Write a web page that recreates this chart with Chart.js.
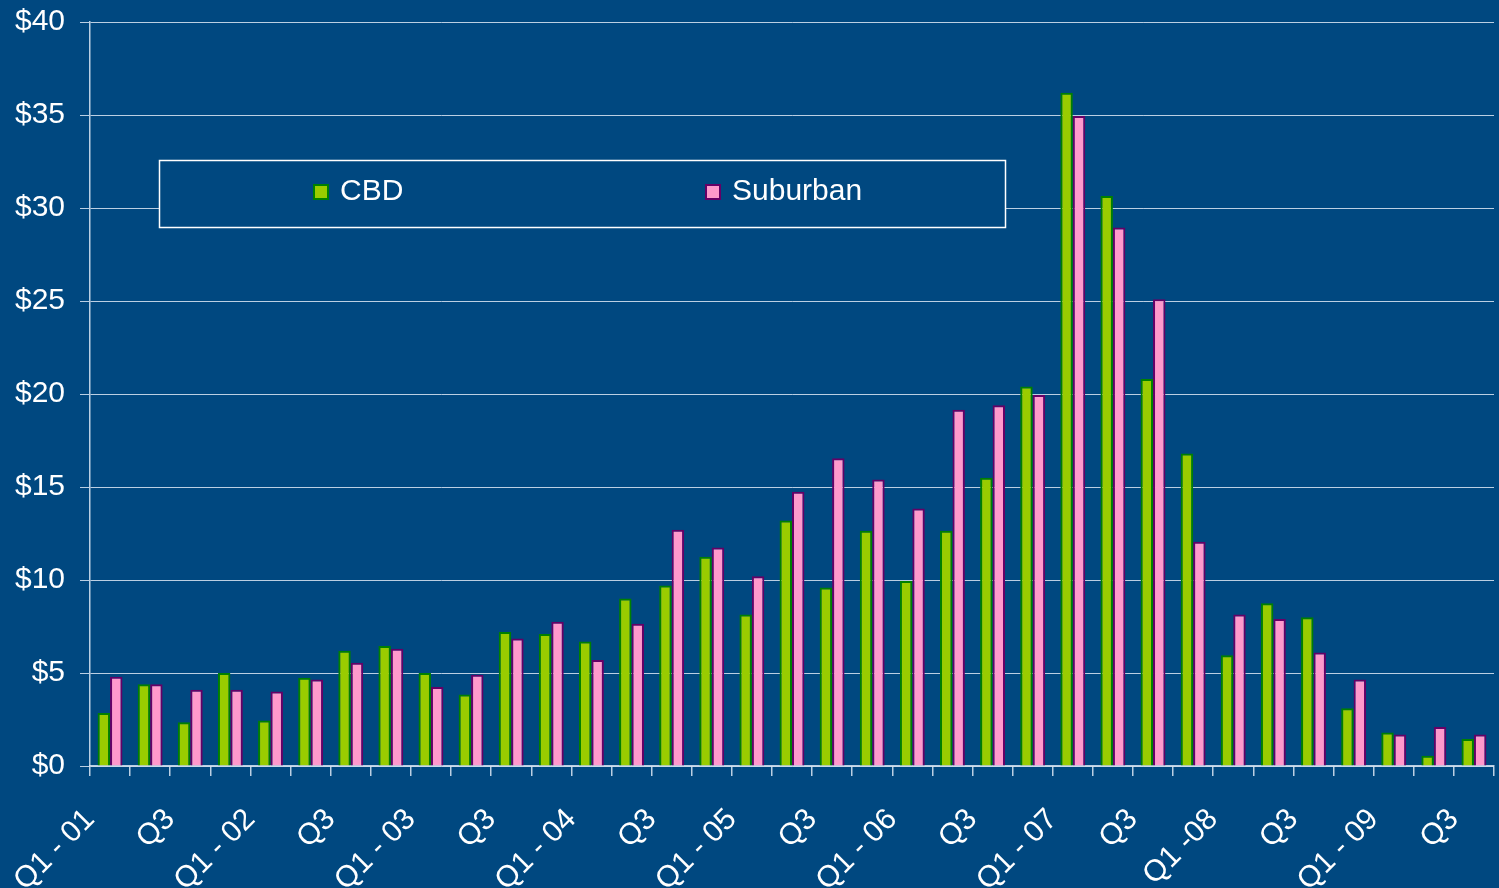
<!DOCTYPE html>
<html>
<head>
<meta charset="utf-8">
<title>CBD vs Suburban</title>
<script src="https://cdn.jsdelivr.net/npm/chart.js@4.4.0/dist/chart.umd.min.js"></script>
<style>
  html, body { margin: 0; padding: 0; background: #004880; }
  #wrap { width: 1499px; height: 888px; }
</style>
</head>
<body>
<div id="wrap"><canvas id="grafico" width="1499" height="888"></canvas></div>
<script>
// Datos
const trimestres = [
  'Q1 - 01', 'Q2', 'Q3', 'Q4',
  'Q1 - 02', 'Q2', 'Q3', 'Q4',
  'Q1 - 03', 'Q2', 'Q3', 'Q4',
  'Q1 - 04', 'Q2', 'Q3', 'Q4',
  'Q1 - 05', 'Q2', 'Q3', 'Q4',
  'Q1 - 06', 'Q2', 'Q3', 'Q4',
  'Q1 - 07', 'Q2', 'Q3', 'Q4',
  'Q1 -08', 'Q2', 'Q3', 'Q4',
  'Q1 - 09', 'Q2', 'Q3'
];

const cbd = [
  2.85, 4.4, 2.35, 5.0,
  2.45, 4.75, 6.2, 6.45,
  5.0, 3.85, 7.2, 7.1,
  6.7, 9.0, 9.7, 11.25,
  8.15, 13.2, 9.6, 12.65,
  9.95, 12.65, 15.5, 20.4,
  36.2, 30.65, 20.8, 16.8,
  5.95, 8.75, 8.0, 3.1,
  1.8, 0.55, 1.45
];

const suburban = [
  4.8, 4.4, 4.1, 4.1,
  4.0, 4.65, 5.55, 6.3,
  4.25, 4.9, 6.85, 7.75,
  5.7, 7.65, 12.7, 11.75,
  10.2, 14.75, 16.55, 15.4,
  13.85, 19.15, 19.4, 19.95,
  34.95, 28.95, 25.1, 12.05,
  8.15, 7.9, 6.1, 4.65,
  1.7, 2.1, 1.7
];

const ticksY = [0, 5, 10, 15, 20, 25, 30, 35, 40];

const fondo = '#004880';
const lineaClara = 'rgba(220, 232, 245, 0.85)';
const fuente = '"Liberation Sans", Arial, sans-serif';

// Fondo azul
const pluginFondo = {
  id: 'fondo',
  beforeDraw(chart) {
    const ctx = chart.ctx;
    ctx.save();
    ctx.fillStyle = fondo;
    ctx.fillRect(0, 0, chart.width, chart.height);
    ctx.restore();
  }
};

// Leyenda en caja dentro del área del gráfico
const pluginLeyenda = {
  id: 'leyendaCaja',
  beforeDatasetsDraw(chart) {
    const ctx = chart.ctx;
    const area = chart.chartArea;
    const x0 = area.left + 69, y0 = area.top + 138;
    const w = 846, h = 67;
    ctx.save();
    ctx.fillStyle = fondo;
    ctx.fillRect(x0, y0, w, h);
    ctx.strokeStyle = '#ffffff';
    ctx.lineWidth = 1.5;
    ctx.strokeRect(x0 + 0.5, y0 + 0.5, w, h);

    const posiciones = [x0 + 155, x0 + 547];
    chart.data.datasets.forEach((ds, i) => {
      const px = posiciones[i];
      const cy = y0 + 32;
      ctx.fillStyle = ds.backgroundColor;
      ctx.fillRect(px, cy - 7, 14, 14);
      ctx.strokeStyle = ds.borderColor;
      ctx.lineWidth = 2;
      ctx.strokeRect(px, cy - 7, 14, 14);
      ctx.fillStyle = '#ffffff';
      ctx.font = '30px ' + fuente;
      ctx.textBaseline = 'middle';
      ctx.textAlign = 'left';
      ctx.fillText(ds.label, px + 26, cy);
    });
    ctx.restore();
  }
};

const grafico = new Chart(document.getElementById('grafico'), {
  type: 'bar',
  data: {
    labels: trimestres,
    datasets: [
      {
        label: 'CBD',
        data: cbd,
        backgroundColor: '#99cc00',
        borderColor: '#008000',
        borderWidth: 2,
        categoryPercentage: 0.62,
        barPercentage: 1.0
      },
      {
        label: 'Suburban',
        data: suburban,
        backgroundColor: '#ff99cc',
        borderColor: '#660066',
        borderWidth: 2,
        categoryPercentage: 0.62,
        barPercentage: 1.0
      }
    ]
  },
  options: {
    responsive: false,
    animation: false,
    layout: { padding: { top: 22, right: 5, left: 0, bottom: 0 } },
    plugins: {
      legend: { display: false },
      tooltip: { enabled: false }
    },
    scales: {
      x: {
        grid: {
          display: true,
          drawOnChartArea: false,
          drawTicks: true,
          tickLength: 10,
          color: lineaClara,
          lineWidth: 1.5
        },
        border: { color: lineaClara, width: 1.5 },
        ticks: {
          color: '#ffffff',
          font: { family: fuente, size: 30 },
          autoSkip: false,
          maxRotation: 45,
          minRotation: 45,
          padding: 26,
          labelOffset: -20,
          callback: function (valor, indice) {
            return indice % 2 === 0 ? trimestres[indice] : '';
          }
        },
        afterFit(escala) {
          escala.height = 122;
          escala.paddingLeft = 0;
          escala.paddingRight = 0;
        }
      },
      y: {
        min: 0,
        max: 40,
        afterBuildTicks(escala) {
          escala.ticks = ticksY.map(v => ({ value: v }));
        },
        grid: {
          color: lineaClara,
          lineWidth: 1,
          tickLength: 10
        },
        border: { color: lineaClara, width: 1.5 },
        ticks: {
          color: '#ffffff',
          font: { family: fuente, size: 30 },
          padding: 15,
          callback: v => '$' + v
        },
        afterFit(escala) {
          escala.width = 90;
          escala.paddingTop = 0;
          escala.paddingBottom = 0;
        }
      }
    }
  },
  plugins: [pluginFondo, pluginLeyenda]
});
</script>
</body>
</html>
